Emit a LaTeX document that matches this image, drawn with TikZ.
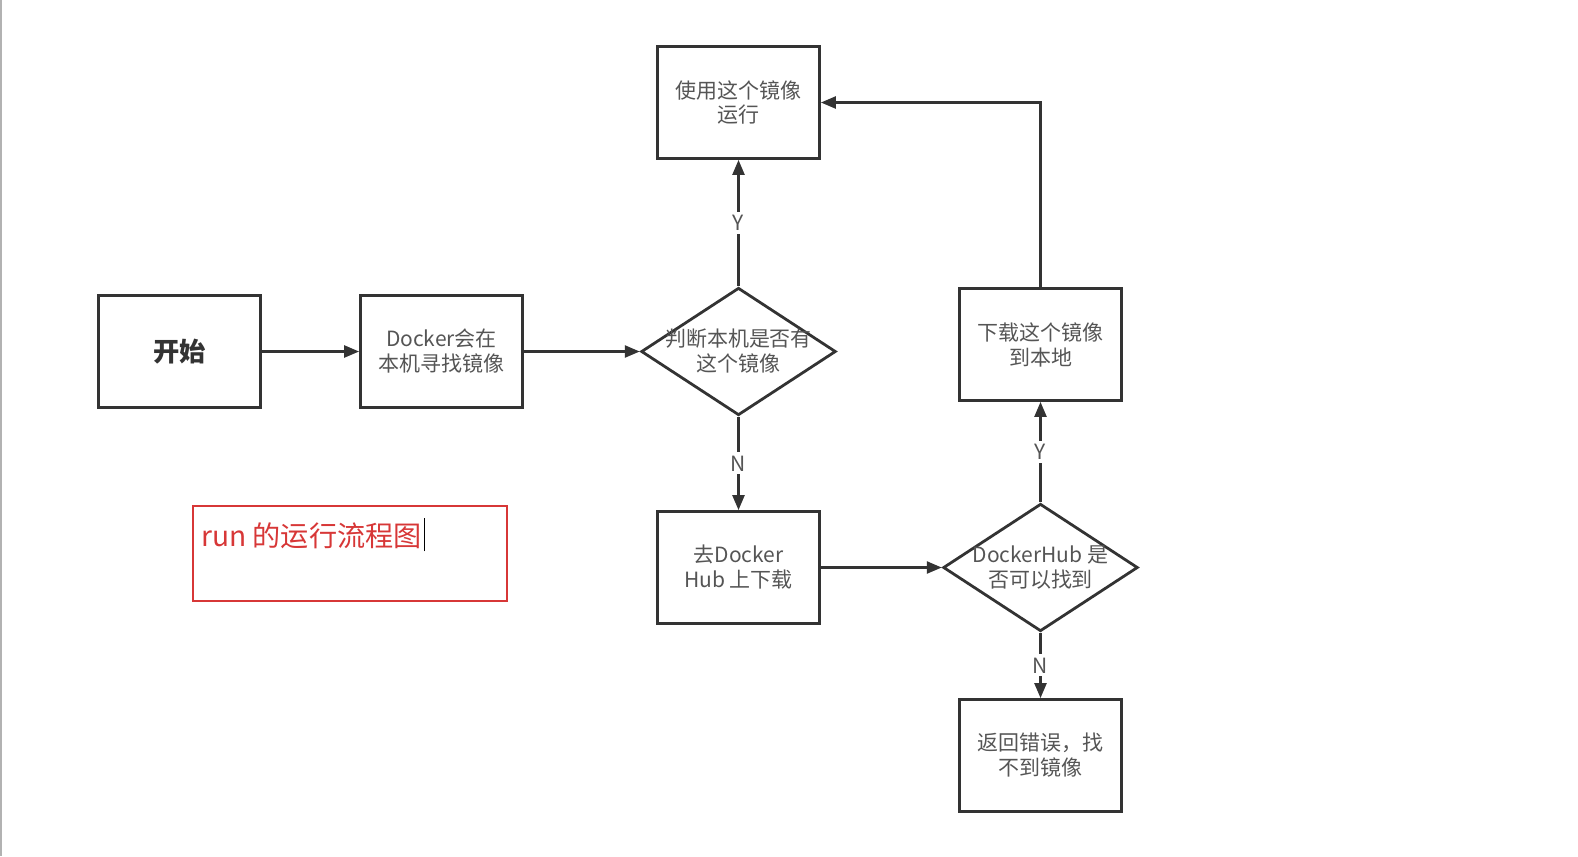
\documentclass[tikz,border=0pt]{standalone}
\usepackage{fontspec}
\newfontfamily\cjk{Noto Sans CJK SC}
\usetikzlibrary{arrows.meta,shapes.geometric}
\definecolor{boxline}{RGB}{51,51,51}
\definecolor{boxtext}{RGB}{85,85,85}
\definecolor{notered}{RGB}{215,55,55}
\tikzset{
  stepbox/.style={draw=boxline,line width=2.1pt,minimum width=121.5bp,minimum height=84bp,align=center,text=boxtext,font=\cjk\fontsize{15.8}{18.8}\selectfont},
  askbox/.style={diamond,draw=boxline,line width=2.1pt,minimum width=146bp,minimum height=95.6bp,inner sep=0pt},
  asktext/.style={align=center,text=boxtext,font=\cjk\fontsize{15.8}{18.8}\selectfont,inner sep=0pt},
  flow/.style={draw=boxline,line width=1.85pt,-{Triangle[length=11.25bp,width=9bp]}},
  yesno/.style={fill=white,text=boxtext,font=\cjk\fontsize{15.8}{18}\selectfont,inner sep=2.5pt}
}
\begin{document}
\begin{tikzpicture}[x=0.75bp,y=-0.75bp]
\useasboundingbox (0,0) rectangle (1578,856);
\draw [gray!60,line width=1.3pt] (1,0) -- (1,856);
% main column
\node[stepbox,text=boxline,font=\cjk\bfseries\fontsize{19.8}{23}\selectfont] (start) at (179.5,351.5) {开始};
\node[stepbox] (find) at (441.5,351.5) {Docker会在\\本机寻找镜像};
\node[askbox] (d1) at (738.5,351.5) {};
\node[asktext] (d1t) at (d1.center) {判断本机是否有\\这个镜像};
\node[stepbox] (use) at (738.5,102.5) {使用这个镜像\\运行};
\node[stepbox] (hub) at (738.5,567.5) {去Docker\\Hub 上下载};
% right column
\node[askbox] (d2) at (1040.5,567.5) {};
\node[asktext] (d2t) at (d2.center) {DockerHub 是\\否可以找到};
\node[stepbox] (pull) at (1040.5,344.5) {下载这个镜像\\到本地};
\node[stepbox] (err) at (1040.5,755.5) {返回错误，找\\不到镜像};
% arrows
\draw [flow] (start) -- (find);
\draw [flow] (find) -- (d1);
\draw [flow] (d1) -- node[yesno]{Y} (use);
\draw [flow] (d1) -- node[yesno]{N} (hub);
\draw [flow] (hub) -- (d2);
\draw [flow] (d2) -- node[yesno]{Y} (pull);
\draw [flow] (d2) -- node[yesno]{N} (err);
\draw [flow] (pull.north) |- (use.east);
% note
\node[draw=notered,line width=1.6pt,minimum width=236bp,minimum height=71bp] (note) at (350,553.5) {};
\node[anchor=base west,inner sep=0pt,text=notered,font=\cjk\fontsize{21.2}{25}\selectfont] (title) at (201,546) {run 的运行流程图};
\draw [line width=1pt] ([xshift=2pt,yshift=-4pt]title.base east) -- ++(0,-33);
\end{tikzpicture}
\end{document}
